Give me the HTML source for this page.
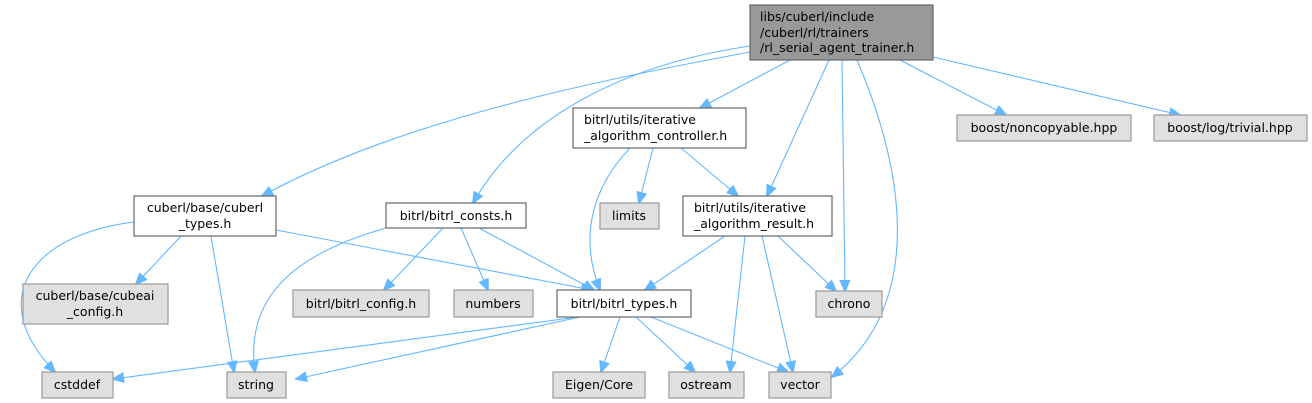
<!DOCTYPE html>
<html><head><meta charset="utf-8"><style>
html,body{margin:0;padding:0;background:#fff;}
svg{display:block}
text{font-family:"DejaVu Sans","Liberation Sans",sans-serif;font-size:12.5px;fill:#000}
.e{fill:none;stroke:#63b8ff;stroke-width:1.1}
.n{fill:#fff;stroke:#666;stroke-width:1.2}
.g{fill:#e0e0e0;stroke:#999;stroke-width:1.2}
</style></head><body>
<svg width="1312" height="403" viewBox="0 0 1312 403" xmlns="http://www.w3.org/2000/svg">
<defs><marker id="a" markerWidth="12" markerHeight="11" refX="11" refY="5.5" orient="auto" markerUnits="userSpaceOnUse"><path d="M0,0.5 L12,5.5 L0,10.5 z" fill="#63b8ff" stroke="#63b8ff"/></marker></defs>
<g class="e" marker-end="url(#a)">
<path d="M750,52 C600,80 400,120 262,196"/>
<path d="M750,46 C620,65 520,120 473,203"/>
<path d="M790,60 L700,108"/>
<path d="M829,60 L767,196"/>
<path d="M842,60 L845,291"/>
<path d="M857,60 C900,160 930,300 832,377"/>
<path d="M900,60 L1006,115"/>
<path d="M933,57 L1180,115"/>
<path d="M630,148 C590,190 580,240 600,290"/>
<path d="M653,148 L639,203"/>
<path d="M681,148 L738,196"/>
<path d="M725,236 L645,290"/>
<path d="M745,236 L730,372"/>
<path d="M762,236 L793,372"/>
<path d="M778,236 L836,291"/>
<path d="M276,230 L592,290"/>
<path d="M181,236 L136,284"/>
<path d="M211,236 L234,372"/>
<path d="M134,222 C30,235 -15,300 55,372"/>
<path d="M386,228 C290,255 245,300 255,372"/>
<path d="M443,228 L384,290"/>
<path d="M461,228 L488,290"/>
<path d="M479,228 L594,290"/>
<path d="M578,317 L113,379"/>
<path d="M580,317 L296,379"/>
<path d="M620,317 L601,372"/>
<path d="M636,317 L695,372"/>
<path d="M651,317 L788,372"/>
</g>
<rect x="750" y="5" width="183" height="55" fill="#999" stroke="#666" stroke-width="1.2"/>
<text x="760" y="21">libs/cuberl/include</text>
<text x="760" y="37">/cuberl/rl/trainers</text>
<text x="760" y="52">/rl_serial_agent_trainer.h</text>
<rect class="n" x="573" y="108" width="173" height="40"/>
<text x="584" y="124">bitrl/utils/iterative</text>
<text x="584" y="140">_algorithm_controller.h</text>
<rect class="g" x="957" y="115" width="174" height="26"/><text x="1044" y="132" text-anchor="middle">boost/noncopyable.hpp</text>
<rect class="g" x="1154" y="115" width="153" height="26"/><text x="1230" y="132" text-anchor="middle">boost/log/trivial.hpp</text>
<rect class="n" x="134" y="196" width="142" height="40"/>
<text x="205" y="212" text-anchor="middle">cuberl/base/cuberl</text>
<text x="205" y="228" text-anchor="middle">_types.h</text>
<rect class="n" x="386" y="203" width="140" height="25"/><text x="456" y="220" text-anchor="middle">bitrl/bitrl_consts.h</text>
<rect class="g" x="600" y="203" width="59" height="26"/><text x="629" y="220" text-anchor="middle">limits</text>
<rect class="n" x="683" y="196" width="149" height="40"/>
<text x="694" y="212">bitrl/utils/iterative</text>
<text x="694" y="228">_algorithm_result.h</text>
<rect class="g" x="23" y="284" width="145" height="40"/>
<text x="95" y="300" text-anchor="middle">cuberl/base/cubeai</text>
<text x="95" y="316" text-anchor="middle">_config.h</text>
<rect class="g" x="293" y="290" width="136" height="27"/><text x="361" y="308" text-anchor="middle">bitrl/bitrl_config.h</text>
<rect class="g" x="454" y="290" width="79" height="27"/><text x="493" y="308" text-anchor="middle">numbers</text>
<rect class="n" x="557" y="290" width="134" height="27"/><text x="624" y="308" text-anchor="middle">bitrl/bitrl_types.h</text>
<rect class="g" x="816" y="291" width="66" height="26"/><text x="849" y="308" text-anchor="middle">chrono</text>
<rect class="g" x="42" y="372" width="71" height="26"/><text x="77" y="389" text-anchor="middle">cstddef</text>
<rect class="g" x="227" y="372" width="59" height="26"/><text x="256" y="389" text-anchor="middle">string</text>
<rect class="g" x="553" y="372" width="92" height="26"/><text x="599" y="389" text-anchor="middle">Eigen/Core</text>
<rect class="g" x="669" y="372" width="75" height="26"/><text x="706" y="389" text-anchor="middle">ostream</text>
<rect class="g" x="769" y="372" width="62" height="26"/><text x="800" y="389" text-anchor="middle">vector</text>
</svg>
</body></html>
